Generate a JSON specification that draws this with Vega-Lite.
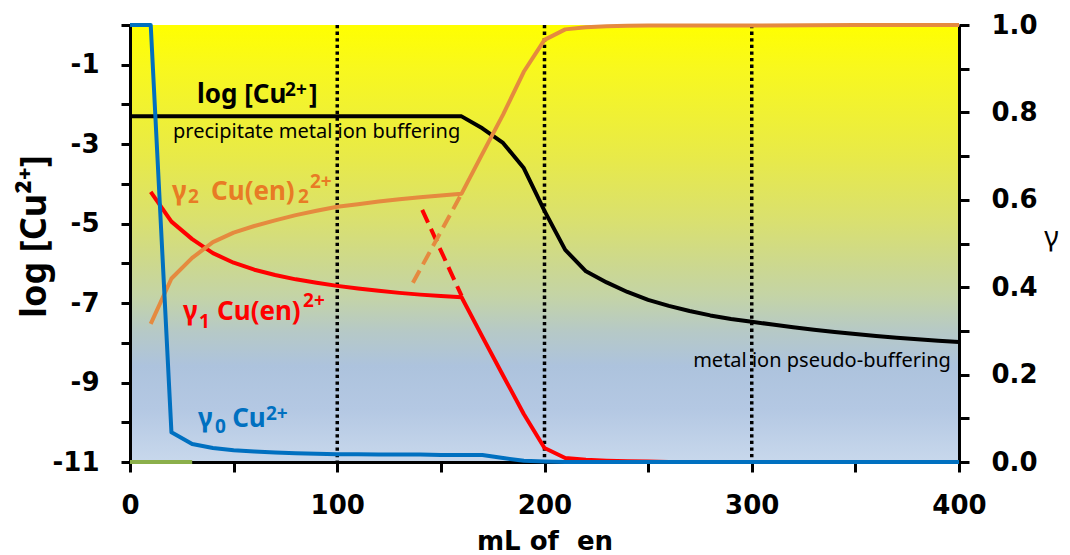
{
  "$schema": "https://vega.github.io/schema/vega-lite/v6.json",
  "width": 829,
  "height": 437,
  "autosize": {"type": "none"},
  "padding": {"left": 130, "top": 25, "right": 111, "bottom": 93},
  "background": "white",
  "config": {
    "font": "Noto Sans",
    "view": {
      "stroke": null,
      "fill": {
        "gradient": "linear",
        "x1": 0, "y1": 0, "x2": 0, "y2": 1,
        "stops": [
          {"offset": 0, "color": "#FFFF00"},
          {"offset": 0.1, "color": "#F8F81E"},
          {"offset": 0.3, "color": "#E8EA48"},
          {"offset": 0.45, "color": "#D9E070"},
          {"offset": 0.55, "color": "#CCD88F"},
          {"offset": 0.62, "color": "#C4D4A6"},
          {"offset": 0.7, "color": "#B6C9C6"},
          {"offset": 0.78, "color": "#ADC3DD"},
          {"offset": 0.88, "color": "#B4C8E3"},
          {"offset": 1, "color": "#C8D8EC"}
        ]
      }
    },
    "axis": {
      "grid": false,
      "domainColor": "black",
      "domainWidth": 3,
      "tickColor": "black",
      "tickWidth": 3,
      "labelFont": "DejaVu Sans",
      "labelFontWeight": "bold",
      "labelFontSize": 26,
      "labelColor": "black",
      "labelFlush": false,
      "titleFont": "Noto Sans",
      "titleFontWeight": "bold",
      "titleFontSize": 28,
      "titleColor": "black"
    }
  },
  "datasets": {
    "dividers": [{"mL": 100}, {"mL": 200}, {"mL": 300}],
    "logcu": [
      {"mL": 0, "logCu": -2.3}, {"mL": 10, "logCu": -2.3}, {"mL": 20, "logCu": -2.3},
      {"mL": 30, "logCu": -2.3}, {"mL": 40, "logCu": -2.3}, {"mL": 50, "logCu": -2.3},
      {"mL": 60, "logCu": -2.3}, {"mL": 70, "logCu": -2.3}, {"mL": 80, "logCu": -2.3},
      {"mL": 90, "logCu": -2.3}, {"mL": 100, "logCu": -2.3}, {"mL": 110, "logCu": -2.3},
      {"mL": 120, "logCu": -2.3}, {"mL": 130, "logCu": -2.3}, {"mL": 140, "logCu": -2.3},
      {"mL": 150, "logCu": -2.3}, {"mL": 160, "logCu": -2.3}, {"mL": 170, "logCu": -2.6},
      {"mL": 180, "logCu": -2.97}, {"mL": 190, "logCu": -3.6}, {"mL": 200, "logCu": -4.68},
      {"mL": 210, "logCu": -5.66}, {"mL": 220, "logCu": -6.2}, {"mL": 230, "logCu": -6.48},
      {"mL": 240, "logCu": -6.72}, {"mL": 250, "logCu": -6.92}, {"mL": 260, "logCu": -7.07},
      {"mL": 270, "logCu": -7.2}, {"mL": 280, "logCu": -7.31}, {"mL": 290, "logCu": -7.4},
      {"mL": 300, "logCu": -7.47}, {"mL": 310, "logCu": -7.54}, {"mL": 320, "logCu": -7.61},
      {"mL": 330, "logCu": -7.67}, {"mL": 340, "logCu": -7.73}, {"mL": 350, "logCu": -7.78},
      {"mL": 360, "logCu": -7.83}, {"mL": 370, "logCu": -7.87}, {"mL": 380, "logCu": -7.91},
      {"mL": 390, "logCu": -7.95}, {"mL": 400, "logCu": -7.98}
    ],
    "labels": [
      {"mL": 32.33, "logCu": -1.963, "text": "log [Cu", "series": "log", "role": "body"},
      {"mL": 74.8, "logCu": -1.787, "text": "2+", "series": "log", "role": "script"},
      {"mL": 86.4, "logCu": -1.963, "text": "]", "series": "log", "role": "body"},

      {"mL": 20.27, "logCu": -4.405, "text": "γ", "series": "g2", "role": "body"},
      {"mL": 27.99, "logCu": -4.493, "text": "2", "series": "g2", "role": "script"},
      {"mL": 39.1, "logCu": -4.405, "text": "Cu(en)", "series": "g2", "role": "body"},
      {"mL": 81.06, "logCu": -4.493, "text": "2", "series": "g2", "role": "script"},
      {"mL": 86.85, "logCu": -4.103, "text": "2+", "series": "g2", "role": "script"},

      {"mL": 25.57, "logCu": -7.426, "text": "γ", "series": "g1", "role": "body"},
      {"mL": 33.29, "logCu": -7.627, "text": "1", "series": "g1", "role": "script"},
      {"mL": 42.0, "logCu": -7.426, "text": "Cu(en)", "series": "g1", "role": "body"},
      {"mL": 83.5, "logCu": -7.098, "text": "2+", "series": "g1", "role": "script"},

      {"mL": 32.81, "logCu": -10.119, "text": "γ", "series": "g0", "role": "body"},
      {"mL": 41.01, "logCu": -10.27, "text": "0", "series": "g0", "role": "script"},
      {"mL": 49.3, "logCu": -10.119, "text": "Cu", "series": "g0", "role": "body"},
      {"mL": 65.62, "logCu": -9.943, "text": "2+", "series": "g0", "role": "script"}
    ],
    "notes": [
      {"mL": 20.75, "logCu": -2.845, "text": "precipitate metal ion buffering", "anchor": "start"},
      {"mL": 396.1, "logCu": -8.609, "text": "metal ion pseudo-buffering", "anchor": "end"}
    ],
    "fractions": [
      {"mL": 0, "species": "g3", "gamma": 0}, {"mL": 10, "species": "g3", "gamma": 0},
      {"mL": 20, "species": "g3", "gamma": 0}, {"mL": 30, "species": "g3", "gamma": 0},

      {"mL": 10, "species": "g1", "gamma": 0.618}, {"mL": 20, "species": "g1", "gamma": 0.55},
      {"mL": 30, "species": "g1", "gamma": 0.51}, {"mL": 40, "species": "g1", "gamma": 0.478},
      {"mL": 50, "species": "g1", "gamma": 0.456}, {"mL": 60, "species": "g1", "gamma": 0.44},
      {"mL": 70, "species": "g1", "gamma": 0.428}, {"mL": 80, "species": "g1", "gamma": 0.418},
      {"mL": 90, "species": "g1", "gamma": 0.41}, {"mL": 100, "species": "g1", "gamma": 0.403},
      {"mL": 110, "species": "g1", "gamma": 0.397}, {"mL": 120, "species": "g1", "gamma": 0.392},
      {"mL": 130, "species": "g1", "gamma": 0.387}, {"mL": 140, "species": "g1", "gamma": 0.383},
      {"mL": 150, "species": "g1", "gamma": 0.38}, {"mL": 160, "species": "g1", "gamma": 0.377},
      {"mL": 170, "species": "g1", "gamma": 0.287}, {"mL": 180, "species": "g1", "gamma": 0.198},
      {"mL": 190, "species": "g1", "gamma": 0.11}, {"mL": 200, "species": "g1", "gamma": 0.032},
      {"mL": 210, "species": "g1", "gamma": 0.009}, {"mL": 220, "species": "g1", "gamma": 0.005},
      {"mL": 230, "species": "g1", "gamma": 0.003}, {"mL": 240, "species": "g1", "gamma": 0.002},
      {"mL": 250, "species": "g1", "gamma": 0.001}, {"mL": 260, "species": "g1", "gamma": 0},
      {"mL": 300, "species": "g1", "gamma": 0}, {"mL": 350, "species": "g1", "gamma": 0},
      {"mL": 400, "species": "g1", "gamma": 0},

      {"mL": 141, "species": "g1x", "gamma": 0.577}, {"mL": 160, "species": "g1x", "gamma": 0.38},
      {"mL": 136.5, "species": "g2x", "gamma": 0.41}, {"mL": 160, "species": "g2x", "gamma": 0.614},

      {"mL": 10, "species": "g2", "gamma": 0.316}, {"mL": 20, "species": "g2", "gamma": 0.42},
      {"mL": 30, "species": "g2", "gamma": 0.467}, {"mL": 40, "species": "g2", "gamma": 0.503},
      {"mL": 50, "species": "g2", "gamma": 0.525}, {"mL": 60, "species": "g2", "gamma": 0.54},
      {"mL": 70, "species": "g2", "gamma": 0.553}, {"mL": 80, "species": "g2", "gamma": 0.565},
      {"mL": 90, "species": "g2", "gamma": 0.575}, {"mL": 100, "species": "g2", "gamma": 0.584},
      {"mL": 110, "species": "g2", "gamma": 0.59}, {"mL": 120, "species": "g2", "gamma": 0.596},
      {"mL": 130, "species": "g2", "gamma": 0.601}, {"mL": 140, "species": "g2", "gamma": 0.606},
      {"mL": 150, "species": "g2", "gamma": 0.61}, {"mL": 160, "species": "g2", "gamma": 0.614},
      {"mL": 170, "species": "g2", "gamma": 0.705}, {"mL": 180, "species": "g2", "gamma": 0.795},
      {"mL": 190, "species": "g2", "gamma": 0.893}, {"mL": 200, "species": "g2", "gamma": 0.966},
      {"mL": 210, "species": "g2", "gamma": 0.99}, {"mL": 220, "species": "g2", "gamma": 0.995},
      {"mL": 230, "species": "g2", "gamma": 0.997}, {"mL": 240, "species": "g2", "gamma": 0.998},
      {"mL": 250, "species": "g2", "gamma": 0.999}, {"mL": 300, "species": "g2", "gamma": 0.999},
      {"mL": 350, "species": "g2", "gamma": 1}, {"mL": 400, "species": "g2", "gamma": 1},

      {"mL": 0, "species": "g0", "gamma": 1}, {"mL": 10, "species": "g0", "gamma": 1},
      {"mL": 20, "species": "g0", "gamma": 0.068}, {"mL": 30, "species": "g0", "gamma": 0.041},
      {"mL": 40, "species": "g0", "gamma": 0.032}, {"mL": 50, "species": "g0", "gamma": 0.027},
      {"mL": 60, "species": "g0", "gamma": 0.024}, {"mL": 70, "species": "g0", "gamma": 0.022},
      {"mL": 80, "species": "g0", "gamma": 0.02}, {"mL": 90, "species": "g0", "gamma": 0.019},
      {"mL": 100, "species": "g0", "gamma": 0.018}, {"mL": 110, "species": "g0", "gamma": 0.018},
      {"mL": 120, "species": "g0", "gamma": 0.017}, {"mL": 130, "species": "g0", "gamma": 0.017},
      {"mL": 140, "species": "g0", "gamma": 0.017}, {"mL": 150, "species": "g0", "gamma": 0.016},
      {"mL": 160, "species": "g0", "gamma": 0.016}, {"mL": 170, "species": "g0", "gamma": 0.016},
      {"mL": 180, "species": "g0", "gamma": 0.009}, {"mL": 190, "species": "g0", "gamma": 0.003},
      {"mL": 200, "species": "g0", "gamma": 0.001}, {"mL": 210, "species": "g0", "gamma": 0},
      {"mL": 300, "species": "g0", "gamma": 0}, {"mL": 400, "species": "g0", "gamma": 0}
    ]
  },
  "encoding": {
    "x": {
      "field": "mL",
      "type": "quantitative",
      "scale": {"domain": [0, 400], "nice": false, "zero": false},
      "axis": {
        "values": [0, 50, 100, 150, 200, 250, 300, 350, 400],
        "labelExpr": "datum.value % 100 === 0 ? datum.label : ''",
        "tickSize": 10,
        "labelPadding": 20,
        "title": "mL of\u00a0 en",
        "titleFont": "DejaVu Sans",
        "titleFontSize": 26,
        "titleY": 87,
        "titleBaseline": "alphabetic"
      }
    }
  },
  "layer": [
    {
      "data": {"name": "dividers"},
      "mark": {"type": "rule", "color": "black", "strokeWidth": 3.5, "strokeDash": [3.3, 3.3]},
      "encoding": {}
    },
    {
      "encoding": {
        "y": {
          "field": "logCu",
          "type": "quantitative",
          "scale": {"domain": [-11, 0], "nice": false, "zero": false},
          "axis": {
            "orient": "left",
            "values": [-11, -10, -9, -8, -7, -6, -5, -4, -3, -2, -1, 0],
            "labelExpr": "datum.value % 2 !== 0 ? '' + datum.value : ''",
            "tickSize": 9,
            "labelPadding": 22,
            "title": "log [Cu²⁺]",
            "titleFontSize": 36,
            "titleAngle": -90,
            "titleX": -85,
            "titleY": 211,
            "titleAlign": "center",
            "titleBaseline": "alphabetic"
          }
        }
      },
      "layer": [
        {
          "data": {"name": "logcu"},
          "mark": {"type": "line", "color": "black", "strokeWidth": 4, "strokeJoin": "round"}
        },
        {
          "data": {"name": "notes"},
          "transform": [{"filter": "datum.anchor === 'start'"}],
          "mark": {"type": "text", "align": "left", "baseline": "alphabetic", "font": "Noto Sans", "fontSize": 20, "color": "black"},
          "encoding": {"text": {"field": "text"}}
        },
        {
          "data": {"name": "notes"},
          "transform": [{"filter": "datum.anchor === 'end'"}],
          "mark": {"type": "text", "align": "right", "baseline": "alphabetic", "font": "Noto Sans", "fontSize": 20, "color": "black"},
          "encoding": {"text": {"field": "text"}}
        },
        {
          "data": {"name": "labels"},
          "transform": [{"filter": "datum.role === 'body'"}],
          "mark": {"type": "text", "align": "left", "baseline": "alphabetic", "font": "Noto Sans", "fontSize": 26, "fontWeight": "bold"},
          "encoding": {
            "text": {"field": "text"},
            "color": {
              "field": "series",
              "type": "nominal",
              "scale": {"domain": ["log", "g2", "g1", "g0"], "range": ["#000000", "#E87B25", "#FF0000", "#0070C0"]},
              "legend": null
            }
          }
        },
        {
          "data": {"name": "labels"},
          "transform": [{"filter": "datum.role === 'script'"}],
          "mark": {"type": "text", "align": "left", "baseline": "alphabetic", "font": "Noto Sans", "fontSize": 19, "fontWeight": "bold"},
          "encoding": {
            "text": {"field": "text"},
            "color": {
              "field": "series",
              "type": "nominal",
              "scale": {"domain": ["log", "g2", "g1", "g0"], "range": ["#000000", "#E87B25", "#FF0000", "#0070C0"]},
              "legend": null
            }
          }
        }
      ]
    },
    {
      "data": {"name": "fractions"},
      "encoding": {
        "y": {
          "field": "gamma",
          "type": "quantitative",
          "scale": {"domain": [0, 1], "nice": false, "zero": false},
          "axis": {
            "orient": "right",
            "values": [0, 0.1, 0.2, 0.3, 0.4, 0.5, 0.6, 0.7, 0.8, 0.9, 1],
            "labelExpr": "round(datum.value * 10) % 2 === 0 ? format(datum.value, '.1f') : ''",
            "tickSize": 10,
            "labelPadding": 22,
            "title": "γ",
            "titleFontWeight": "normal",
            "titleFontSize": 28,
            "titleAngle": 0,
            "titleX": 92,
            "titleY": 220,
            "titleAlign": "center",
            "titleBaseline": "alphabetic"
          }
        }
      },
      "layer": [
        {
          "transform": [{"filter": "datum.species === 'g3'"}],
          "mark": {"type": "line", "color": "#8BAF4B", "strokeWidth": 4}
        },
        {
          "transform": [{"filter": "datum.species === 'g1'"}],
          "mark": {"type": "line", "color": "#FF0000", "strokeWidth": 4, "strokeJoin": "round"}
        },
        {
          "transform": [{"filter": "datum.species === 'g1x'"}],
          "mark": {"type": "line", "color": "#FF0000", "strokeWidth": 4, "strokeDash": [14, 7]}
        },
        {
          "transform": [{"filter": "datum.species === 'g2x'"}],
          "mark": {"type": "line", "color": "#E58A3F", "strokeWidth": 4, "strokeDash": [14, 7]}
        },
        {
          "transform": [{"filter": "datum.species === 'g2'"}],
          "mark": {"type": "line", "color": "#E58A3F", "strokeWidth": 4, "strokeJoin": "round"}
        },
        {
          "transform": [{"filter": "datum.species === 'g0'"}],
          "mark": {"type": "line", "color": "#0070C0", "strokeWidth": 4, "strokeJoin": "round"}
        }
      ]
    }
  ],
  "resolve": {"scale": {"y": "independent"}}
}
